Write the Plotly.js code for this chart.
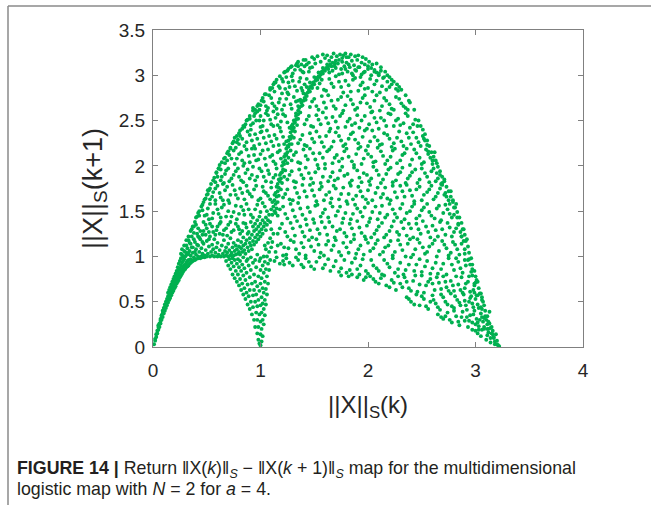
<!DOCTYPE html>
<html>
<head>
<meta charset="utf-8">
<script src="https://cdn.plot.ly/plotly-3.0.1.min.js"></script>
<style>
html,body{margin:0;padding:0;background:#fff;}
#chart{width:651px;height:507px;}
</style>
</head>
<body>
<div id="chart"></div>
<script>
// Points read (estimated) from the reference return map, grouped by region: [x, y] = [||X||S(k), ||X||S(k+1)]
const trumpet = [[0.01,0.03],[0.02,0.07],[0.02,0.09],[0.03,0.11],[0.03,0.14],[0.04,0.15],[0.04,0.18],[0.05,0.19],[0.05,0.22],[0.05,0.24],[0.06,0.22],[0.06,0.26],[0.07,0.26],[0.07,0.29],[0.07,0.31],[0.08,0.3],[0.08,0.33],[0.08,0.35],[0.09,0.33],[0.09,0.37],[0.09,0.4],[0.1,0.37],[0.1,0.4],[0.1,0.43],[0.11,0.4],[0.11,0.44],[0.11,0.47],[0.12,0.43],[0.12,0.46],[0.12,0.5],[0.13,0.46],[0.13,0.49],[0.13,0.53],[0.14,0.49],[0.14,0.52],[0.14,0.56],[0.14,0.6],[0.15,0.52],[0.15,0.55],[0.15,0.59],[0.15,0.63],[0.16,0.54],[0.16,0.58],[0.16,0.62],[0.16,0.66],[0.17,0.57],[0.17,0.6],[0.17,0.65],[0.17,0.69],[0.18,0.6],[0.18,0.63],[0.18,0.68],[0.18,0.72],[0.19,0.62],[0.19,0.66],[0.19,0.7],[0.19,0.75],[0.2,0.65],[0.2,0.68],[0.2,0.73],[0.2,0.78],[0.21,0.67],[0.21,0.71],[0.21,0.76],[0.21,0.81],[0.22,0.7],[0.22,0.74],[0.22,0.79],[0.22,0.84],[0.23,0.72],[0.23,0.77],[0.23,0.82],[0.23,0.88],[0.24,0.74],[0.24,0.79],[0.24,0.85],[0.24,0.92],[0.25,0.77],[0.25,0.81],[0.25,0.87],[0.25,0.95],[0.26,0.79],[0.26,0.84],[0.26,0.9],[0.26,0.98],[0.27,0.81],[0.27,0.86],[0.27,0.93],[0.27,1.02],[0.28,0.83],[0.28,0.88],[0.28,0.95],[0.29,0.85],[0.29,0.9],[0.29,0.97],[0.3,0.86],[0.3,0.91],[0.3,1.0],[0.31,0.88],[0.31,0.93],[0.32,0.89],[0.32,0.95],[0.33,0.9],[0.33,0.96],[0.34,0.92],[0.35,0.93],[0.35,0.97],[0.36,0.94],[0.37,0.95],[0.38,0.96],[0.39,0.96],[0.4,0.97],[0.42,0.98],[0.44,0.98],[0.46,0.99],[0.48,0.99]];

const plateau = [[0.3,1.05],[0.31,1.12],[0.32,1.02],[0.33,1.18],[0.34,1.06],[0.35,1.01],[0.35,1.14],[0.36,1.22],[0.37,1.04],[0.37,1.1],[0.38,0.99],[0.39,1.16],[0.4,1.02],[0.4,1.08],[0.41,1.25],[0.42,1.0],[0.42,1.12],[0.43,1.05],[0.44,1.19],[0.45,1.0],[0.45,1.09],[0.46,1.03],[0.47,1.14],[0.47,1.28],[0.48,1.01],[0.49,1.07],[0.5,1.0],[0.5,1.17],[0.51,1.03],[0.52,1.11],[0.53,1.0],[0.53,1.22],[0.54,1.05],[0.55,1.01],[0.55,1.13],[0.56,1.08],[0.57,1.0],[0.57,1.19],[0.58,1.04],[0.59,1.1],[0.6,1.0],[0.6,1.15],[0.61,1.02],[0.62,1.07],[0.62,1.25],[0.63,1.0],[0.64,1.12],[0.65,1.03],[0.66,1.0],[0.66,1.18],[0.67,1.06],[0.68,1.01],[0.68,1.1],[0.69,1.04],[0.7,1.0],[0.7,1.14],[0.71,1.07],[0.72,1.01],[0.72,1.2],[0.73,1.04],[0.74,1.1],[0.75,1.01],[0.75,1.15],[0.76,1.06],[0.77,1.02],[0.77,1.12],[0.78,1.08],[0.79,1.03],[0.79,1.18],[0.8,1.05],[0.8,1.11],[0.81,1.02],[0.82,1.09],[0.82,1.16],[0.83,1.05],[0.84,1.12],[0.84,1.21],[0.85,1.07],[0.86,1.14],[0.86,1.03],[0.87,1.18],[0.88,1.1],[0.88,1.25],[0.89,1.06],[0.9,1.15],[0.9,1.2],[0.91,1.12],[0.92,1.24],[0.92,1.08],[0.93,1.17],[0.94,1.28],[0.94,1.13],[0.95,1.21],[0.96,1.16],[0.96,1.3],[0.97,1.24],[0.98,1.19],[0.98,1.33],[0.99,1.27],[1.0,1.22],[1.0,1.36],[1.01,1.3],[1.02,1.25],[1.02,1.4],[1.03,1.33],[1.04,1.37],[1.05,1.29],[1.05,1.43],[1.06,1.35],[1.07,1.4],[1.08,1.46],[1.09,1.38],[0.26,1.03],[0.28,1.0],[0.29,1.06],[0.31,1.02],[0.32,1.09],[0.33,1.04],[0.34,1.15],[0.36,1.1],[0.38,1.19],[0.39,1.05],[0.41,1.13],[0.43,1.21],[0.46,1.16],[0.49,1.24],[0.52,1.19]];

const loop = [[0.68,0.95],[0.7,0.9],[0.71,0.97],[0.72,0.86],[0.73,0.93],[0.74,0.8],[0.75,0.89],[0.76,0.96],[0.76,0.76],[0.77,0.84],[0.78,0.92],[0.78,0.72],[0.79,0.8],[0.8,0.88],[0.8,0.68],[0.81,0.95],[0.81,0.75],[0.82,0.63],[0.82,0.84],[0.83,0.91],[0.83,0.7],[0.84,0.58],[0.84,0.79],[0.85,0.87],[0.85,0.65],[0.86,0.53],[0.86,0.74],[0.87,0.95],[0.87,0.82],[0.87,0.6],[0.88,0.47],[0.88,0.69],[0.89,0.9],[0.89,0.56],[0.9,0.77],[0.9,0.42],[0.9,0.63],[0.91,0.85],[0.91,0.5],[0.92,0.36],[0.92,0.7],[0.93,0.57],[0.93,0.93],[0.93,0.44],[0.94,0.8],[0.94,0.3],[0.94,0.63],[0.95,0.5],[0.95,0.72],[0.95,0.22],[0.96,0.38],[0.96,0.88],[0.96,0.58],[0.97,0.15],[0.97,0.45],[0.97,0.67],[0.97,0.3],[0.98,0.08],[0.98,0.52],[0.98,0.78],[0.98,0.22],[0.99,0.04],[0.99,0.36],[0.99,0.62],[0.99,0.95],[1.0,0.02],[1.0,0.14],[1.0,0.28],[1.0,0.46],[1.0,0.7],[1.0,0.85],[1.01,0.06],[1.01,0.2],[1.01,0.38],[1.01,0.55],[1.01,0.76],[1.02,0.12],[1.02,0.3],[1.02,0.48],[1.02,0.65],[1.02,0.9],[1.03,0.25],[1.03,0.42],[1.03,0.6],[1.03,0.82],[1.03,1.0],[1.04,0.35],[1.04,0.52],[1.04,0.72],[1.04,0.94],[1.05,0.47],[1.05,0.64],[1.05,0.86],[1.05,1.08],[1.06,0.58],[1.06,0.78],[1.06,1.0],[1.07,0.7],[1.07,0.92],[1.07,1.15],[1.08,0.85],[1.08,1.05],[1.09,0.96],[1.09,1.2],[1.1,1.1],[1.11,1.16],[1.1,1.3],[1.12,1.25],[0.74,0.98],[0.79,0.97],[0.84,0.99],[0.88,0.97],[0.91,0.99],[0.95,0.96],[0.97,1.02],[1.0,0.98],[1.04,1.12]];

const diagonal = [[1.11,1.46],[1.13,1.5],[1.12,1.55],[1.14,1.58],[1.13,1.62],[1.15,1.66],[1.14,1.7],[1.16,1.72],[1.17,1.76],[1.16,1.8],[1.18,1.83],[1.19,1.86],[1.18,1.9],[1.2,1.93],[1.21,1.96],[1.2,2.0],[1.22,2.02],[1.23,2.06],[1.22,2.1],[1.24,2.12],[1.25,2.15],[1.24,2.19],[1.26,2.21],[1.27,2.24],[1.26,2.28],[1.28,2.3],[1.29,2.33],[1.28,2.37],[1.3,2.39],[1.31,2.42],[1.3,2.46],[1.32,2.48],[1.33,2.51],[1.33,2.55],[1.35,2.57],[1.35,2.61],[1.36,2.64],[1.38,2.66],[1.38,2.7],[1.4,2.72],[1.41,2.75],[1.42,2.79],[1.44,2.81],[1.45,2.84],[1.46,2.87],[1.48,2.89],[1.49,2.92],[1.51,2.94],[1.52,2.97],[1.54,2.99],[1.56,3.01],[1.57,3.04],[1.59,3.06],[1.61,3.08],[1.63,3.1],[1.65,3.12],[1.67,3.14],[1.7,3.16],[1.73,3.17],[1.76,3.19],[1.8,3.2],[1.14,1.48],[1.15,1.53],[1.16,1.6],[1.17,1.67],[1.19,1.74],[1.2,1.81],[1.22,1.88],[1.23,1.95],[1.25,2.03],[1.26,2.09],[1.28,2.17],[1.29,2.24],[1.31,2.31],[1.32,2.38],[1.34,2.45],[1.35,2.52],[1.37,2.59],[1.39,2.67],[1.42,2.73],[1.43,2.77],[1.46,2.82],[1.48,2.86],[1.5,2.9],[1.53,2.95],[1.55,2.98],[1.58,3.02],[1.6,3.05],[1.63,3.07],[1.66,3.1],[1.69,3.13],[1.1,1.52],[1.11,1.6],[1.13,1.68],[1.15,1.77],[1.17,1.85],[1.19,1.92],[1.21,2.04],[1.23,2.13],[1.25,2.22],[1.27,2.32],[1.29,2.41],[1.31,2.5],[1.33,2.58],[1.35,2.66],[1.37,2.73],[1.4,2.8],[1.43,2.87],[1.46,2.92],[1.5,2.98],[1.54,3.03],[1.58,3.08],[1.62,3.12]];

const crest = [[1.5,3.18],[1.53,3.21],[1.56,3.15],[1.58,3.23],[1.6,3.19],[1.62,3.22],[1.64,3.16],[1.66,3.2],[1.68,3.24],[1.69,3.1],[1.71,3.21],[1.72,3.13],[1.74,3.23],[1.75,3.07],[1.76,3.15],[1.77,3.22],[1.78,3.1],[1.79,3.24],[1.8,3.14],[1.81,3.04],[1.82,3.2],[1.83,3.09],[1.84,3.23],[1.85,3.16],[1.86,3.0],[1.87,3.11],[1.88,3.21],[1.89,3.05],[1.9,3.17],[1.91,3.22],[1.92,3.09],[1.93,2.98],[1.94,3.14],[1.95,3.2],[1.96,3.03],[1.97,3.12],[1.98,3.18],[2.0,3.07],[2.01,3.15],[2.03,3.0],[2.04,3.12],[2.06,3.06],[2.08,3.13],[2.1,3.02],[2.12,3.09],[2.14,2.97],[2.16,3.04],[1.45,3.14],[1.48,3.2],[1.42,3.17],[1.38,3.12],[1.35,3.15]];

const leftCloud = [[0.36,1.3],[0.4,1.35],[0.44,1.28],[0.47,1.38],[0.5,1.31],[0.53,1.36],[0.56,1.27],[0.6,1.33],[0.63,1.38],[0.66,1.29],[0.7,1.35],[0.73,1.27],[0.77,1.36],[0.8,1.3],[0.84,1.37],[0.87,1.32],[0.91,1.38],[0.95,1.36],[0.42,1.22],[0.58,1.24],[0.69,1.23],[0.38,1.26],[0.81,1.25],
[0.4,1.43],[0.42,1.48],[0.45,1.55],[0.48,1.45],[0.51,1.53],[0.55,1.42],[0.58,1.58],[0.61,1.47],[0.64,1.54],[0.68,1.44],[0.71,1.59],[0.75,1.49],[0.78,1.41],[0.82,1.55],[0.85,1.46],[0.89,1.52],[0.93,1.43],[0.97,1.57],[1.0,1.49],[1.04,1.55],[0.47,1.6],[0.52,1.41],
[0.49,1.64],[0.53,1.75],[0.53,1.63],[0.56,1.71],[0.6,1.78],[0.63,1.65],[0.67,1.73],[0.7,1.62],[0.74,1.79],[0.77,1.68],[0.81,1.75],[0.85,1.63],[0.88,1.72],[0.92,1.66],[0.96,1.78],[1.0,1.64],[1.03,1.72],[1.07,1.67],[1.1,1.76],[0.51,1.69],[0.58,1.62],[0.65,1.8],
[0.56,1.84],[0.59,1.93],[0.58,1.82],[0.61,1.97],[0.64,1.88],[0.68,1.95],[0.71,1.83],[0.75,1.9],[0.79,1.97],[0.82,1.84],[0.86,1.92],[0.9,1.86],[0.93,1.99],[0.97,1.88],[1.01,1.94],[1.05,1.83],[1.08,1.91],[1.12,1.87],[1.15,1.97],[0.63,1.96],[0.66,1.81],[0.84,2.0],
[0.62,2.01],[0.66,2.08],[0.67,2.03],[0.7,2.16],[0.73,2.08],[0.76,2.02],[0.8,2.13],[0.83,2.06],[0.87,2.18],[0.9,2.04],[0.94,2.12],[0.98,2.07],[1.02,2.17],[1.05,2.01],[1.09,2.1],[1.12,2.05],[1.16,2.15],[1.19,2.08],[0.72,2.19],[0.77,2.2],[0.95,2.19],
[0.74,2.25],[0.8,2.36],[0.78,2.26],[0.81,2.33],[0.85,2.22],[0.88,2.38],[0.92,2.28],[0.95,2.35],[0.99,2.24],[1.03,2.31],[1.06,2.39],[1.1,2.27],[1.13,2.34],[1.17,2.23],[1.21,2.32],[1.24,2.27],[0.79,2.29],[0.91,2.4],[1.0,2.37],
[0.83,2.41],[0.86,2.46],[0.9,2.52],[0.91,2.45],[0.94,2.55],[0.97,2.6],[1.0,2.43],[1.03,2.5],[1.07,2.56],[1.1,2.46],[1.14,2.53],[1.18,2.42],[1.21,2.57],[1.25,2.48],[1.29,2.44],[0.96,2.5],[1.12,2.6],[1.0,2.55],
[0.93,2.64],[0.98,2.68],[0.99,2.62],[1.02,2.75],[1.05,2.66],[1.08,2.78],[1.11,2.69],[1.15,2.63],[1.18,2.74],[1.22,2.67],[1.26,2.79],[1.29,2.63],[1.33,2.71],[1.04,2.79],[1.2,2.8],[1.06,2.61],
[1.09,2.84],[1.12,2.9],[1.15,2.95],[1.18,2.86],[1.21,2.93],[1.24,2.98],[1.27,2.87],[1.3,2.94],[1.34,2.83],[1.37,2.97],[1.41,2.9],[1.13,2.82],[1.25,2.81],[1.38,2.86],
[1.22,3.03],[1.26,3.07],[1.3,3.02],[1.33,3.11],[1.37,3.06],[1.41,3.1],[1.45,3.04],[1.29,3.1],[1.48,3.09]];

const leftCloudB = [[0.38,1.33],[0.42,1.31],[0.46,1.24],[0.49,1.35],[0.52,1.27],[0.55,1.33],[0.59,1.29],[0.62,1.36],[0.65,1.24],[0.68,1.31],[0.72,1.38],[0.75,1.29],[0.79,1.33],[0.83,1.28],[0.86,1.36],[0.89,1.27],[0.93,1.33],[0.97,1.4],
[0.43,1.45],[0.46,1.51],[0.5,1.46],[0.53,1.58],[0.56,1.48],[0.6,1.52],[0.63,1.43],[0.66,1.57],[0.7,1.5],[0.73,1.44],[0.77,1.56],[0.8,1.47],[0.84,1.51],[0.87,1.58],[0.91,1.46],[0.95,1.52],[0.99,1.44],[1.02,1.59],[1.06,1.5],
[0.51,1.73],[0.55,1.66],[0.58,1.75],[0.62,1.7],[0.65,1.62],[0.69,1.77],[0.72,1.68],[0.76,1.73],[0.79,1.64],[0.83,1.7],[0.87,1.78],[0.9,1.69],[0.94,1.74],[0.98,1.62],[1.02,1.77],[1.05,1.7],[1.09,1.63],
[0.6,1.88],[0.63,1.84],[0.67,1.91],[0.7,1.97],[0.73,1.86],[0.77,1.94],[0.8,1.88],[0.84,1.82],[0.88,1.96],[0.92,1.9],[0.95,1.84],[0.99,1.97],[1.03,1.88],[1.07,1.95],[1.1,1.82],[1.14,1.9],
[0.69,2.06],[0.71,2.12],[0.75,2.17],[0.78,2.08],[0.82,2.15],[0.85,2.03],[0.89,2.11],[0.92,2.19],[0.96,2.06],[1.0,2.13],[1.04,2.08],[1.07,2.18],[1.11,2.12],[1.14,2.02],[1.18,2.17],
[0.76,2.31],[0.8,2.24],[0.83,2.3],[0.87,2.26],[0.9,2.34],[0.94,2.22],[0.97,2.3],[1.01,2.38],[1.05,2.25],[1.08,2.33],[1.12,2.22],[1.15,2.3],[1.19,2.38],[1.22,2.24],
[0.85,2.43],[0.88,2.51],[0.93,2.47],[0.95,2.58],[0.99,2.5],[1.02,2.44],[1.05,2.58],[1.09,2.51],[1.12,2.44],[1.16,2.57],[1.19,2.49],[1.23,2.55],[1.27,2.42],[1.16,2.45],
[0.95,2.62],[1.0,2.67],[1.03,2.71],[1.07,2.64],[1.1,2.75],[1.13,2.66],[1.17,2.7],[1.2,2.62],[1.24,2.74],[1.28,2.68],[1.31,2.76],[1.35,2.72],
[1.11,2.86],[1.14,2.92],[1.17,2.88],[1.2,2.96],[1.23,2.85],[1.26,2.92],[1.29,2.99],[1.32,2.88],[1.36,2.93],[1.39,2.83],[1.43,2.96],[1.4,3.03],
[1.25,3.05],[1.32,3.06],[1.35,3.1],[1.39,3.04],[1.43,3.12],[1.46,3.08],[1.51,3.13]];

const leftEdge = [[0.27,1.08],[0.29,1.12],[0.31,1.18],[0.33,1.22],[0.35,1.28],[0.37,1.33],[0.39,1.38],[0.41,1.44],[0.43,1.5],[0.46,1.57],[0.48,1.63],[0.5,1.68],[0.52,1.73],[0.54,1.8],[0.57,1.87],[0.59,1.92],[0.61,1.97],[0.64,2.04],[0.67,2.09],[0.69,2.14],[0.72,2.2],[0.75,2.27],[0.78,2.33],[0.81,2.39],[0.84,2.44],[0.87,2.5],[0.9,2.55],[0.93,2.61],[0.97,2.66],[1.01,2.72],[1.05,2.79],[1.09,2.86],[1.13,2.92],[1.18,2.99],[1.23,3.04],[1.28,3.09],[1.34,3.13],[1.4,3.17]];

const rightCloud = [[3.0,0.18],[3.05,0.12],[3.08,0.2],[3.1,0.08],[3.12,0.16],[3.14,0.05],[3.15,0.22],[3.17,0.1],[3.18,0.03],[3.19,0.14],[3.2,0.07],[3.21,0.02],[3.16,0.18],[3.13,0.26],[3.11,0.13],[3.06,0.19],[2.97,0.19],[3.02,0.15],
[2.65,0.36],[2.7,0.31],[2.74,0.38],[2.78,0.27],[2.82,0.34],[2.85,0.24],[2.88,0.39],[2.9,0.29],[2.93,0.22],[2.95,0.35],[2.97,0.27],[2.99,0.4],[3.01,0.31],[3.03,0.23],[3.05,0.37],[3.07,0.28],[3.09,0.34],[3.11,0.25],[3.13,0.39],[2.8,0.4],[2.92,0.33],[3.0,0.25],[3.04,0.3],[3.08,0.22],[2.72,0.34],
[2.36,0.55],[2.4,0.5],[2.45,0.58],[2.48,0.46],[2.52,0.53],[2.56,0.42],[2.6,0.57],[2.63,0.48],[2.67,0.41],[2.7,0.55],[2.74,0.47],[2.77,0.59],[2.8,0.43],[2.83,0.52],[2.86,0.46],[2.89,0.58],[2.92,0.41],[2.94,0.5],[2.96,0.56],[2.98,0.44],[3.0,0.53],[3.02,0.47],[3.04,0.59],[3.06,0.42],[3.07,0.5],[2.9,0.51],[2.99,0.6],[2.58,0.5],
[1.75,0.79],[1.82,0.78],[1.9,0.77],[1.96,0.74],[2.02,0.78],[2.07,0.72],[2.12,0.76],[2.17,0.68],[2.22,0.74],[2.26,0.63],[2.3,0.7],[2.34,0.77],[2.38,0.65],[2.42,0.73],[2.46,0.61],[2.5,0.79],[2.54,0.68],[2.58,0.75],[2.62,0.63],[2.66,0.71],[2.7,0.78],[2.73,0.66],[2.77,0.73],[2.8,0.62],[2.84,0.69],[2.87,0.77],[2.9,0.65],[2.93,0.72],[2.95,0.61],[2.97,0.79],[2.99,0.68],[3.01,0.74],[2.28,0.78],[2.6,0.7],[2.88,0.6],
[1.13,0.95],[1.18,0.92],[1.24,0.98],[1.3,0.9],[1.35,0.96],[1.4,0.88],[1.45,0.94],[1.5,0.86],[1.55,0.99],[1.6,0.91],[1.65,0.84],[1.7,0.95],[1.75,0.87],[1.8,0.82],[1.85,0.93],[1.9,0.86],[1.95,0.97],[2.0,0.81],[2.05,0.9],[2.1,0.84],[2.15,0.96],[2.2,0.88],[2.25,0.82],[2.3,0.93],[2.35,0.85],[2.4,0.99],[2.45,0.91],[2.5,0.83],[2.55,0.95],[2.6,0.87],[2.65,0.81],[2.7,0.92],[2.75,0.98],[2.8,0.85],[2.84,0.94],[2.88,0.82],[2.91,0.9],[2.94,0.97],[2.97,0.86],[1.42,0.98],[1.22,0.91],[1.92,0.8],
[1.14,1.05],[1.19,1.14],[1.24,1.02],[1.28,1.18],[1.33,1.08],[1.38,1.15],[1.42,1.01],[1.47,1.11],[1.52,1.19],[1.56,1.04],[1.61,1.13],[1.66,1.07],[1.7,1.18],[1.75,1.01],[1.8,1.1],[1.84,1.16],[1.89,1.03],[1.93,1.12],[1.98,1.19],[2.02,1.06],[2.07,1.14],[2.11,1.02],[2.16,1.1],[2.21,1.17],[2.25,1.05],[2.3,1.13],[2.35,1.0],[2.39,1.19],[2.44,1.08],[2.48,1.15],[2.53,1.03],[2.57,1.11],[2.62,1.18],[2.66,1.06],[2.71,1.13],[2.75,1.01],[2.79,1.16],[2.83,1.08],[2.87,1.14],[2.9,1.03],[2.92,1.19],[1.22,1.1],
[1.16,1.25],[1.2,1.36],[1.25,1.22],[1.3,1.31],[1.34,1.39],[1.39,1.27],[1.43,1.35],[1.48,1.21],[1.53,1.3],[1.57,1.38],[1.62,1.24],[1.67,1.33],[1.71,1.28],[1.76,1.37],[1.8,1.22],[1.85,1.31],[1.9,1.39],[1.94,1.26],[1.99,1.34],[2.03,1.21],[2.08,1.29],[2.13,1.37],[2.17,1.24],[2.22,1.33],[2.27,1.27],[2.31,1.38],[2.36,1.23],[2.4,1.31],[2.45,1.36],[2.49,1.25],[2.54,1.33],[2.58,1.21],[2.63,1.29],[2.67,1.38],[2.72,1.24],[2.76,1.32],[2.8,1.27],[2.84,1.36],[2.87,1.22],[2.89,1.3],
[1.16,1.45],[1.21,1.55],[1.25,1.42],[1.3,1.51],[1.35,1.59],[1.39,1.46],[1.44,1.54],[1.49,1.41],[1.53,1.57],[1.58,1.48],[1.63,1.43],[1.67,1.55],[1.72,1.5],[1.77,1.42],[1.81,1.58],[1.86,1.47],[1.9,1.53],[1.95,1.44],[2.0,1.59],[2.04,1.49],[2.09,1.41],[2.13,1.56],[2.18,1.46],[2.23,1.52],[2.27,1.43],[2.32,1.58],[2.36,1.48],[2.41,1.55],[2.45,1.42],[2.5,1.51],[2.55,1.58],[2.59,1.45],[2.64,1.53],[2.68,1.4],[2.72,1.57],[2.76,1.47],[2.8,1.54],[2.83,1.43],
[1.21,1.65],[1.25,1.74],[1.3,1.62],[1.34,1.7],[1.39,1.79],[1.43,1.66],[1.48,1.73],[1.52,1.61],[1.57,1.77],[1.61,1.68],[1.66,1.64],[1.7,1.75],[1.75,1.69],[1.8,1.61],[1.84,1.78],[1.89,1.67],[1.93,1.72],[1.98,1.63],[2.02,1.79],[2.07,1.7],[2.12,1.65],[2.16,1.76],[2.21,1.62],[2.25,1.71],[2.3,1.78],[2.34,1.66],[2.39,1.73],[2.43,1.61],[2.48,1.77],[2.52,1.68],[2.57,1.74],[2.61,1.63],[2.65,1.7],[2.69,1.79],[2.73,1.66],[2.77,1.72],[2.79,1.62],
[1.25,1.85],[1.29,1.94],[1.33,1.82],[1.38,1.9],[1.42,1.98],[1.47,1.86],[1.51,1.93],[1.56,1.81],[1.6,1.97],[1.65,1.88],[1.69,1.84],[1.74,1.95],[1.78,1.89],[1.83,1.81],[1.87,1.98],[1.92,1.87],[1.96,1.92],[2.01,1.83],[2.05,1.99],[2.1,1.9],[2.14,1.85],[2.19,1.96],[2.23,1.82],[2.28,1.91],[2.32,1.98],[2.37,1.86],[2.41,1.93],[2.46,1.81],[2.5,1.97],[2.55,1.88],[2.59,1.94],[2.63,1.83],[2.67,1.9],[2.71,1.85],
[1.29,2.06],[1.33,2.15],[1.37,2.03],[1.42,2.11],[1.46,2.19],[1.51,2.07],[1.55,2.14],[1.6,2.02],[1.64,2.18],[1.69,2.09],[1.73,2.05],[1.78,2.16],[1.82,2.1],[1.87,2.01],[1.91,2.19],[1.96,2.08],[2.0,2.13],[2.05,2.04],[2.09,2.2],[2.14,2.11],[2.18,2.06],[2.23,2.17],[2.27,2.03],[2.32,2.12],[2.36,2.19],[2.41,2.07],[2.45,2.14],[2.5,2.02],[2.54,2.18],[2.58,2.09],[2.62,2.15],[2.64,2.03],
[1.35,2.25],[1.39,2.34],[1.43,2.22],[1.48,2.3],[1.52,2.38],[1.57,2.26],[1.61,2.33],[1.66,2.21],[1.7,2.37],[1.75,2.28],[1.79,2.24],[1.84,2.35],[1.88,2.29],[1.93,2.21],[1.97,2.39],[2.02,2.27],[2.06,2.32],[2.11,2.23],[2.15,2.36],[2.2,2.3],[2.24,2.25],[2.29,2.38],[2.33,2.22],[2.38,2.31],[2.42,2.37],[2.47,2.26],[2.51,2.33],[2.55,2.23],
[1.41,2.46],[1.45,2.55],[1.49,2.43],[1.54,2.51],[1.58,2.59],[1.63,2.47],[1.67,2.54],[1.72,2.42],[1.76,2.58],[1.81,2.49],[1.85,2.45],[1.9,2.56],[1.94,2.5],[1.99,2.41],[2.03,2.59],[2.08,2.48],[2.12,2.53],[2.17,2.44],[2.21,2.57],[2.26,2.5],[2.3,2.45],[2.35,2.58],[2.39,2.42],[2.44,2.51],[2.46,2.44],
[1.46,2.65],[1.5,2.74],[1.54,2.62],[1.59,2.7],[1.63,2.78],[1.68,2.66],[1.72,2.73],[1.77,2.61],[1.81,2.77],[1.86,2.68],[1.9,2.64],[1.95,2.75],[1.99,2.69],[2.04,2.6],[2.08,2.78],[2.13,2.66],[2.17,2.72],[2.22,2.63],[2.26,2.76],[2.31,2.69],[2.35,2.64],[2.38,2.72],
[1.53,2.86],[1.57,2.95],[1.61,2.83],[1.66,2.91],[1.7,2.99],[1.75,2.87],[1.79,2.94],[1.84,2.82],[1.88,2.97],[1.93,2.89],[1.97,2.85],[2.02,2.96],[2.06,2.9],[2.11,2.81],[2.15,2.98],[2.2,2.87],[2.24,2.93],[2.28,2.83],
[1.64,3.03],[1.7,3.08],[1.76,3.02],[1.82,3.12],[1.88,3.06],[1.94,3.01],[2.0,3.1],[2.06,3.04],[2.1,3.0]];

const rightCloudB = [[2.68,0.33],[2.76,0.3],[2.84,0.28],[2.87,0.33],[2.94,0.29],[2.98,0.36],[3.02,0.27],[3.06,0.33],[3.1,0.3],[3.12,0.2],[3.16,0.14],[3.03,0.19],
[2.38,0.53],[2.43,0.47],[2.5,0.56],[2.54,0.45],[2.61,0.52],[2.65,0.44],[2.68,0.58],[2.72,0.5],[2.78,0.45],[2.81,0.56],[2.85,0.49],[2.91,0.46],[2.95,0.54],[2.97,0.48],[3.01,0.57],[3.03,0.43],[3.06,0.55],
[1.85,0.8],[1.98,0.77],[2.05,0.75],[2.1,0.7],[2.15,0.79],[2.2,0.66],[2.24,0.71],[2.32,0.66],[2.36,0.72],[2.4,0.62],[2.44,0.79],[2.48,0.69],[2.52,0.6],[2.56,0.72],[2.64,0.77],[2.68,0.64],[2.72,0.72],[2.75,0.62],[2.79,0.68],[2.82,0.78],[2.86,0.63],[2.91,0.7],[2.94,0.78],[2.98,0.63],[3.0,0.71],
[1.15,0.99],[1.21,0.95],[1.27,0.93],[1.33,0.99],[1.38,0.91],[1.47,0.89],[1.52,0.94],[1.58,0.87],[1.63,0.97],[1.68,0.89],[1.73,0.83],[1.78,0.96],[1.83,0.85],[1.88,0.98],[1.93,0.9],[1.98,0.84],[2.03,0.96],[2.08,0.87],[2.13,0.8],[2.18,0.92],[2.23,0.98],[2.28,0.86],[2.33,0.8],[2.38,0.91],[2.43,0.84],[2.48,0.97],[2.53,0.89],[2.58,0.81],[2.63,0.93],[2.68,0.86],[2.73,0.8],[2.78,0.91],[2.82,0.98],[2.86,0.87],[2.9,0.96],[2.95,0.91],
[1.16,1.12],[1.21,1.01],[1.26,1.09],[1.31,1.16],[1.36,1.03],[1.4,1.1],[1.45,1.18],[1.5,1.06],[1.54,1.13],[1.59,1.01],[1.63,1.17],[1.68,1.12],[1.73,1.05],[1.77,1.15],[1.82,1.04],[1.87,1.19],[1.91,1.08],[1.96,1.02],[2.0,1.15],[2.05,1.09],[2.09,1.18],[2.14,1.05],[2.19,1.12],[2.23,1.01],[2.28,1.18],[2.32,1.07],[2.37,1.14],[2.42,1.02],[2.46,1.19],[2.51,1.1],[2.55,1.05],[2.6,1.14],[2.64,1.0],[2.69,1.17],[2.73,1.09],[2.77,1.04],[2.81,1.13],[2.85,1.02],[2.89,1.17],
[1.18,1.31],[1.23,1.27],[1.28,1.37],[1.32,1.23],[1.37,1.33],[1.41,1.22],[1.46,1.29],[1.5,1.37],[1.55,1.25],[1.6,1.32],[1.64,1.38],[1.69,1.21],[1.74,1.3],[1.78,1.26],[1.83,1.36],[1.87,1.24],[1.92,1.32],[1.97,1.22],[2.01,1.38],[2.06,1.25],[2.1,1.33],[2.15,1.21],[2.2,1.28],[2.24,1.39],[2.29,1.24],[2.33,1.31],[2.38,1.36],[2.42,1.21],[2.47,1.3],[2.51,1.39],[2.56,1.27],[2.6,1.34],[2.65,1.22],[2.69,1.3],[2.74,1.37],[2.78,1.22],[2.82,1.31],[2.86,1.27],
[1.18,1.52],[1.23,1.47],[1.28,1.58],[1.32,1.44],[1.37,1.53],[1.42,1.41],[1.46,1.49],[1.51,1.56],[1.56,1.44],[1.6,1.52],[1.65,1.59],[1.7,1.45],[1.74,1.55],[1.79,1.48],[1.84,1.41],[1.88,1.57],[1.93,1.49],[1.97,1.54],[2.02,1.42],[2.07,1.55],[2.11,1.48],[2.16,1.43],[2.2,1.58],[2.25,1.47],[2.3,1.53],[2.34,1.41],[2.39,1.5],[2.43,1.58],[2.48,1.45],[2.52,1.54],[2.57,1.49],[2.62,1.42],[2.66,1.56],[2.7,1.48],[2.74,1.52],[2.78,1.43],[2.82,1.58],
[1.23,1.69],[1.27,1.63],[1.32,1.76],[1.36,1.65],[1.41,1.72],[1.46,1.79],[1.5,1.67],[1.55,1.74],[1.59,1.62],[1.64,1.71],[1.68,1.78],[1.73,1.63],[1.77,1.76],[1.82,1.69],[1.86,1.63],[1.91,1.77],[1.95,1.66],[2.0,1.73],[2.04,1.62],[2.09,1.76],[2.14,1.69],[2.18,1.64],[2.23,1.78],[2.27,1.65],[2.32,1.72],[2.36,1.79],[2.41,1.67],[2.45,1.74],[2.5,1.62],[2.55,1.71],[2.59,1.78],[2.63,1.66],[2.67,1.75],[2.71,1.68],[2.75,1.62],
[1.27,1.9],[1.31,1.83],[1.36,1.96],[1.4,1.86],[1.45,1.92],[1.49,1.81],[1.54,1.97],[1.58,1.88],[1.63,1.83],[1.67,1.93],[1.72,1.86],[1.76,1.99],[1.81,1.91],[1.85,1.84],[1.9,1.95],[1.94,1.82],[1.99,1.9],[2.03,1.86],[2.08,1.95],[2.12,1.81],[2.17,1.91],[2.21,1.98],[2.26,1.84],[2.3,1.93],[2.35,1.81],[2.39,1.89],[2.44,1.96],[2.48,1.85],[2.53,1.92],[2.57,1.82],[2.61,1.97],[2.65,1.86],[2.69,1.81],
[1.31,2.12],[1.35,2.04],[1.4,2.18],[1.44,2.07],[1.49,2.14],[1.53,2.01],[1.58,2.09],[1.62,2.16],[1.67,2.03],[1.71,2.12],[1.76,2.08],[1.8,2.19],[1.85,2.05],[1.89,2.13],[1.94,2.02],[1.98,2.17],[2.03,2.1],[2.07,2.05],[2.12,2.16],[2.16,2.02],[2.21,2.1],[2.25,2.19],[2.3,2.06],[2.34,2.14],[2.39,2.01],[2.43,2.18],[2.48,2.09],[2.52,2.04],[2.56,2.13],[2.6,2.06],
[1.37,2.29],[1.41,2.23],[1.46,2.36],[1.5,2.26],[1.55,2.32],[1.59,2.21],[1.64,2.38],[1.68,2.27],[1.73,2.33],[1.77,2.22],[1.82,2.3],[1.86,2.37],[1.91,2.25],[1.95,2.32],[2.0,2.22],[2.04,2.39],[2.09,2.28],[2.13,2.24],[2.18,2.34],[2.22,2.21],[2.27,2.31],[2.31,2.27],[2.36,2.36],[2.4,2.24],[2.45,2.31],[2.49,2.22],[2.53,2.28],
[1.43,2.51],[1.47,2.44],[1.52,2.56],[1.56,2.46],[1.61,2.53],[1.65,2.41],[1.7,2.49],[1.74,2.55],[1.79,2.43],[1.83,2.52],[1.88,2.47],[1.92,2.42],[1.97,2.55],[2.01,2.46],[2.06,2.53],[2.1,2.41],[2.15,2.5],[2.19,2.58],[2.24,2.44],[2.28,2.52],[2.33,2.47],[2.37,2.55],[2.42,2.46],
[1.48,2.71],[1.52,2.66],[1.57,2.77],[1.61,2.64],[1.66,2.72],[1.7,2.63],[1.75,2.76],[1.79,2.67],[1.84,2.73],[1.88,2.62],[1.93,2.7],[1.97,2.78],[2.02,2.65],[2.06,2.72],[2.11,2.61],[2.15,2.75],[2.2,2.68],[2.24,2.62],[2.29,2.74],[2.33,2.66],[2.37,2.62],
[1.55,2.91],[1.59,2.84],[1.64,2.96],[1.68,2.87],[1.73,2.93],[1.77,2.81],[1.82,2.89],[1.86,2.95],[1.91,2.83],[1.95,2.92],[2.0,2.86],[2.04,2.82],[2.08,2.94],[2.13,2.88],[2.17,2.84],[2.22,2.9],[2.26,2.85],[2.18,2.93],
[1.67,3.05],[1.73,3.01],[1.79,3.07],[1.85,3.02],[1.91,3.09],[1.97,3.04],[2.03,3.08],[2.08,3.03]];

const rightEdge = [[2.47,2.5],[2.49,2.44],[2.51,2.4],[2.53,2.35],[2.52,2.3],[2.55,2.28],[2.57,2.22],[2.56,2.16],[2.59,2.15],[2.61,2.1],[2.6,2.02],[2.63,2.06],[2.65,1.99],[2.64,1.92],[2.67,1.94],[2.69,1.88],[2.68,1.8],[2.71,1.83],[2.73,1.77],[2.72,1.7],[2.75,1.72],[2.77,1.66],[2.76,1.58],[2.79,1.6],[2.81,1.54],[2.8,1.46],[2.83,1.49],[2.85,1.43],[2.84,1.35],[2.87,1.37],[2.88,1.3],[2.87,1.22],[2.9,1.24],[2.91,1.17],[2.9,1.08],[2.93,1.11],[2.94,1.04],[2.93,0.96],[2.96,0.98],[2.97,0.91],[2.96,0.83],[2.99,0.84],[3.0,0.78],[2.99,0.7],[3.02,0.72],[3.03,0.65],[3.02,0.57],[3.05,0.59],[3.06,0.52],[3.05,0.44],[3.08,0.46],[3.09,0.4],[3.08,0.32],[3.11,0.34],[3.12,0.28],[3.11,0.2],[3.14,0.21],[3.15,0.15],[3.14,0.1],[3.17,0.11],[3.18,0.06],[3.2,0.03],[3.22,0.01],[2.12,3.05],[2.18,3.0],[2.22,2.95],[2.27,2.9],[2.31,2.84],[2.35,2.78],[2.39,2.7],[2.43,2.62],[2.2,2.98],[2.29,2.87]];

const xTicks = [0, 1, 2, 3, 4];
const yTicks = [0, 0.5, 1, 1.5, 2, 2.5, 3, 3.5];

const groups = [trumpet, plateau, loop, diagonal, crest, leftCloud, leftCloudB, leftEdge, rightCloud, rightCloudB, rightEdge];
const green = '#00b050';
const traces = groups.map(g => ({
  type: 'scatter',
  mode: 'markers',
  x: g.map(p => p[0]),
  y: g.map(p => p[1]),
  marker: {color: green, size: 3.9, line: {width: 0}},
  showlegend: false,
  hoverinfo: 'x+y'
}));

const tickFont = {family: 'Liberation Sans, Arial, Helvetica, sans-serif', size: 19, color: '#262626'};
const xTitleFont = {family: 'Liberation Sans, Arial, Helvetica, sans-serif', size: 24, color: '#262626'};
const yTitleFont = {family: 'Liberation Sans, Arial, Helvetica, sans-serif', size: 27, color: '#262626'};
const capFont = {family: 'Liberation Sans Narrow, Arial Narrow, Liberation Sans, Arial, sans-serif', size: 17.8, color: '#231f20'};

// plot area in pixels: x 153..583, y 30..347
const L = 153, R = 583, T = 30, B = 347;
const px = v => (v - L) / (R - L);
const py = v => (B - v) / (B - T);

const layout = {
  width: 651, height: 507,
  margin: {l: L, r: 651 - R, t: T, b: 507 - B, pad: 0},
  paper_bgcolor: '#ffffff',
  plot_bgcolor: '#ffffff',
  showlegend: false,
  xaxis: {
    range: [0, 4], tickvals: xTicks, ticktext: xTicks.map(String),
    ticks: 'inside', ticklen: 5, tickcolor: '#808080', tickwidth: 1,
    showline: true, linecolor: '#808080', linewidth: 1, mirror: 'ticks',
    showgrid: false, zeroline: false, tickfont: tickFont, ticklabelstandoff: 6,
    title: {text: '||X||<sub>S</sub>(k)', font: xTitleFont, standoff: 16}
  },
  yaxis: {
    range: [0, 3.5], tickvals: yTicks, ticktext: yTicks.map(String),
    ticks: 'inside', ticklen: 5, tickcolor: '#808080', tickwidth: 1,
    showline: true, linecolor: '#808080', linewidth: 1, mirror: 'ticks',
    showgrid: false, zeroline: false, tickfont: tickFont, ticklabelstandoff: 3,
    title: {text: '||X||<sub>S</sub>(k+1)', font: yTitleFont, standoff: 8}
  },
  shapes: [
    {type: 'line', xref: 'paper', yref: 'paper', x0: px(8), y0: py(6), x1: px(651), y1: py(6), line: {color: '#8a8a8a', width: 1.5}},
    {type: 'line', xref: 'paper', yref: 'paper', x0: px(8), y0: py(6), x1: px(8), y1: py(505), line: {color: '#8a8a8a', width: 1.5}}
  ],
  annotations: [
    {xref: 'paper', yref: 'paper', x: px(15), y: py(469), xanchor: 'left', yanchor: 'middle', showarrow: false, align: 'left',
     font: capFont,
     text: '<b>FIGURE 14 |</b> Return ‖X(<i>k</i>)‖<sub><i>S</i></sub> − ‖X(<i>k</i> + 1)‖<sub><i>S</i></sub> map for the multidimensional'},
    {xref: 'paper', yref: 'paper', x: px(15), y: py(489), xanchor: 'left', yanchor: 'middle', showarrow: false, align: 'left',
     font: capFont,
     text: 'logistic map with <i>N</i> = 2 for <i>a</i> = 4.'}
  ]
};

Plotly.newPlot('chart', traces, layout, {displayModeBar: false, staticPlot: true});
</script>
</body>
</html>
